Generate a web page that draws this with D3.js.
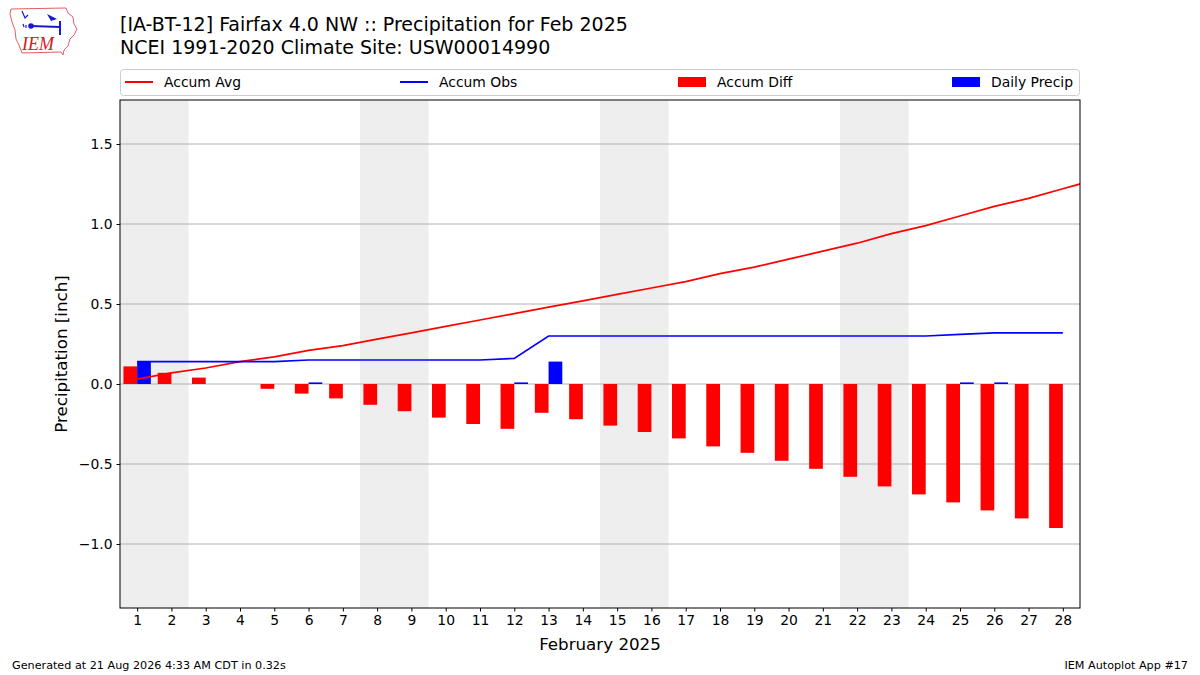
<!DOCTYPE html>
<html>
<head>
<meta charset="utf-8">
<script src="https://cdn.jsdelivr.net/npm/d3@7"></script>
<style>
  body { margin: 0; background: #fff; }
  svg { font-family: "DejaVu Sans", sans-serif; }
</style>
</head>
<body>
<div id="chart"></div>
<script>
// day of month
const days = d3.range(1, 29);
// accumulated climatology (one extra value for Mar 1 so the line reaches the frame edge)
const accumAvg = [0.03, 0.07, 0.10, 0.14, 0.17, 0.21, 0.24, 0.28, 0.32, 0.36, 0.40, 0.44, 0.48, 0.52,
  0.56, 0.60, 0.64, 0.69, 0.73, 0.78, 0.83, 0.88, 0.94, 0.99, 1.05, 1.11, 1.16, 1.22, 1.28];
const accumObs = [0.14, 0.14, 0.14, 0.14, 0.14, 0.15, 0.15, 0.15, 0.15, 0.15, 0.15, 0.16, 0.30, 0.30,
  0.30, 0.30, 0.30, 0.30, 0.30, 0.30, 0.30, 0.30, 0.30, 0.30, 0.31, 0.32, 0.32, 0.32];
const accumDiff = [0.11, 0.07, 0.04, 0.00, -0.03, -0.06, -0.09, -0.13, -0.17, -0.21, -0.25, -0.28, -0.18, -0.22,
  -0.26, -0.30, -0.34, -0.39, -0.43, -0.48, -0.53, -0.58, -0.64, -0.69, -0.74, -0.79, -0.84, -0.90];
const dailyPrecip = [0.14, 0, 0, 0, 0, 0.01, 0, 0, 0, 0, 0, 0.01, 0.14, 0,
  0, 0, 0, 0, 0, 0, 0, 0, 0, 0, 0.01, 0.01, 0, 0];
// Saturday/Sunday pairs
const weekends = [[1, 2], [8, 9], [15, 16], [22, 23]];
const yTicks = [-1.0, -0.5, 0.0, 0.5, 1.0, 1.5];
const legendItems = [
  { name: 'Accum Avg', kind: 'line', color: 'red' },
  { name: 'Accum Obs', kind: 'line', color: 'blue' },
  { name: 'Accum Diff', kind: 'rect', color: 'red' },
  { name: 'Daily Precip', kind: 'rect', color: 'blue' }
];

const W = 1200, H = 675;
const m = { left: 120, right: 1080, top: 100, bottom: 608 };

const svg = d3.select('#chart').append('svg').attr('width', W).attr('height', H);

const x = d3.scaleLinear().domain([0.5, 28.5]).range([m.left, m.right]);
const y = d3.scaleLinear().domain([-1.4, 1.775]).range([m.bottom, m.top]);

svg.append('defs').append('clipPath').attr('id', 'clip')
  .append('rect').attr('x', m.left).attr('y', m.top)
  .attr('width', m.right - m.left).attr('height', m.bottom - m.top);

const plot = svg.append('g').attr('clip-path', 'url(#clip)');

// weekend shading
plot.selectAll('rect.wk').data(weekends).enter().append('rect')
  .attr('x', d => x(d[0] - 0.5))
  .attr('width', d => x(d[1] + 0.5) - x(d[0] - 0.5))
  .attr('y', m.top).attr('height', m.bottom - m.top)
  .attr('fill', '#eeeeee');

// grid
plot.selectAll('line.grid').data(yTicks).enter().append('line')
  .attr('x1', m.left).attr('x2', m.right)
  .attr('y1', d => y(d)).attr('y2', d => y(d))
  .attr('stroke', '#b0b0b0').attr('stroke-width', 1);

const bw = 0.4;
// accumulated difference bars, left of day
plot.selectAll('rect.diff').data(days).enter().append('rect')
  .attr('x', d => x(d - bw))
  .attr('width', x(bw) - x(0))
  .attr('y', (d, i) => y(Math.max(0, accumDiff[i])))
  .attr('height', (d, i) => Math.abs(y(accumDiff[i]) - y(0)))
  .attr('fill', 'red');

// daily precip bars, right of day
plot.selectAll('rect.daily').data(days).enter().append('rect')
  .attr('x', d => x(d))
  .attr('width', x(bw) - x(0))
  .attr('y', (d, i) => y(dailyPrecip[i]))
  .attr('height', (d, i) => y(0) - y(dailyPrecip[i]))
  .attr('fill', 'blue');

const line = d3.line().x(d => x(d[0])).y(d => y(d[1]));
plot.append('path')
  .datum(accumAvg.map((v, i) => [i + 1, v]))
  .attr('d', line).attr('fill', 'none').attr('stroke', 'red').attr('stroke-width', 1.7);
plot.append('path')
  .datum(accumObs.map((v, i) => [i + 1, v]))
  .attr('d', line).attr('fill', 'none').attr('stroke', 'blue').attr('stroke-width', 1.7);

// axes
const fmt = d => (d < 0 ? '\u2212' : '') + Math.abs(d).toFixed(1);
const yAxis = svg.append('g').attr('transform', `translate(${m.left},0)`)
  .call(d3.axisLeft(y).tickValues(yTicks).tickFormat(fmt).tickSize(3.5).tickPadding(4));
const xAxis = svg.append('g').attr('transform', `translate(0,${m.bottom})`)
  .call(d3.axisBottom(x).tickValues(days).tickFormat(d3.format('d')).tickSize(3.5).tickPadding(4));
[xAxis, yAxis].forEach(a => {
  a.select('.domain').remove();
  a.selectAll('text').attr('font-size', 13.9).attr('fill', '#000').attr('font-family', '"DejaVu Sans", sans-serif');
  a.selectAll('line').attr('stroke', '#000');
});

svg.append('rect')
  .attr('x', m.left).attr('y', m.top)
  .attr('width', m.right - m.left).attr('height', m.bottom - m.top)
  .attr('fill', 'none').attr('stroke', '#000').attr('stroke-width', 1);

svg.append('text').attr('x', (m.left + m.right) / 2).attr('y', 650)
  .attr('text-anchor', 'middle').attr('font-size', 16.7).text('February 2025');
svg.append('text')
  .attr('transform', `translate(67,${(m.top + m.bottom) / 2}) rotate(-90)`)
  .attr('text-anchor', 'middle').attr('font-size', 16.7).text('Precipitation [inch]');

// titles
svg.append('text').attr('x', 120).attr('y', 31).attr('font-size', 19)
  .text('[IA-BT-12] Fairfax 4.0 NW :: Precipitation for Feb 2025');
svg.append('text').attr('x', 120).attr('y', 54).attr('font-size', 19)
  .text('NCEI 1991-2020 Climate Site: USW00014990');

// legend
const lg = svg.append('g');
lg.append('rect').attr('x', 120.5).attr('y', 69.5).attr('width', 959).attr('height', 26)
  .attr('rx', 3).attr('fill', '#fff').attr('stroke', '#cccccc');
const legX = [125, 400, 678, 952];
legendItems.forEach((it, i) => {
  const g = lg.append('g').attr('transform', `translate(${legX[i]},82)`);
  if (it.kind === 'line') {
    g.append('line').attr('x1', 0).attr('x2', 28).attr('stroke', it.color).attr('stroke-width', 2);
  } else {
    g.append('rect').attr('x', 0).attr('y', -5).attr('width', 28).attr('height', 10).attr('fill', it.color);
  }
  g.append('text').attr('x', 39).attr('y', 5).attr('font-size', 13.9).text(it.name);
});

// footer
svg.append('text').attr('x', 12).attr('y', 669).attr('font-size', 11.2)
  .text('Generated at 21 Aug 2026 4:33 AM CDT in 0.32s');
svg.append('text').attr('x', 1188).attr('y', 669).attr('font-size', 11.2).attr('text-anchor', 'end')
  .text('IEM Autoplot App #17');

// IEM logo
const logo = svg.append('g');
logo.append('path')
  .attr('d', 'M11,9 L66,8 L68,13 L73,17 L74,24 L77,29 L74,35 L70,39 L68,46 L64,50 L63,55 L61,52 L22,53 L19,45 L16,39 L15,30 L12,22 L10,14 Z')
  .attr('fill', '#fff').attr('stroke', '#e06060').attr('stroke-width', 1);
logo.append('line').attr('x1', 31).attr('y1', 26).attr('x2', 60).attr('y2', 27)
  .attr('stroke', '#1a1ad0').attr('stroke-width', 2);
logo.append('line').attr('x1', 60).attr('y1', 21).attr('x2', 60).attr('y2', 35)
  .attr('stroke', '#1a1ad0').attr('stroke-width', 2);
logo.append('path').attr('d', 'M47,14 L57,19 L51,21 Z').attr('fill', '#1a1ad0');
logo.append('circle').attr('cx', 31).attr('cy', 26).attr('r', 2.8).attr('fill', '#1a1ad0');
logo.append('path').attr('d', 'M22,11 L25,18 L28,15').attr('stroke', '#1a1ad0').attr('stroke-width', 1.2).attr('fill', 'none');
logo.append('path').attr('d', 'M23,24 L24,27 M26,25 L26,28').attr('stroke', '#1a1ad0').attr('stroke-width', 1.2).attr('fill', 'none');
logo.append('text').attr('x', 22).attr('y', 50).attr('font-family', '"Liberation Serif", serif')
  .attr('font-style', 'italic').attr('font-size', 18).attr('fill', '#d02020').text('IEM');
</script>
</body>
</html>
